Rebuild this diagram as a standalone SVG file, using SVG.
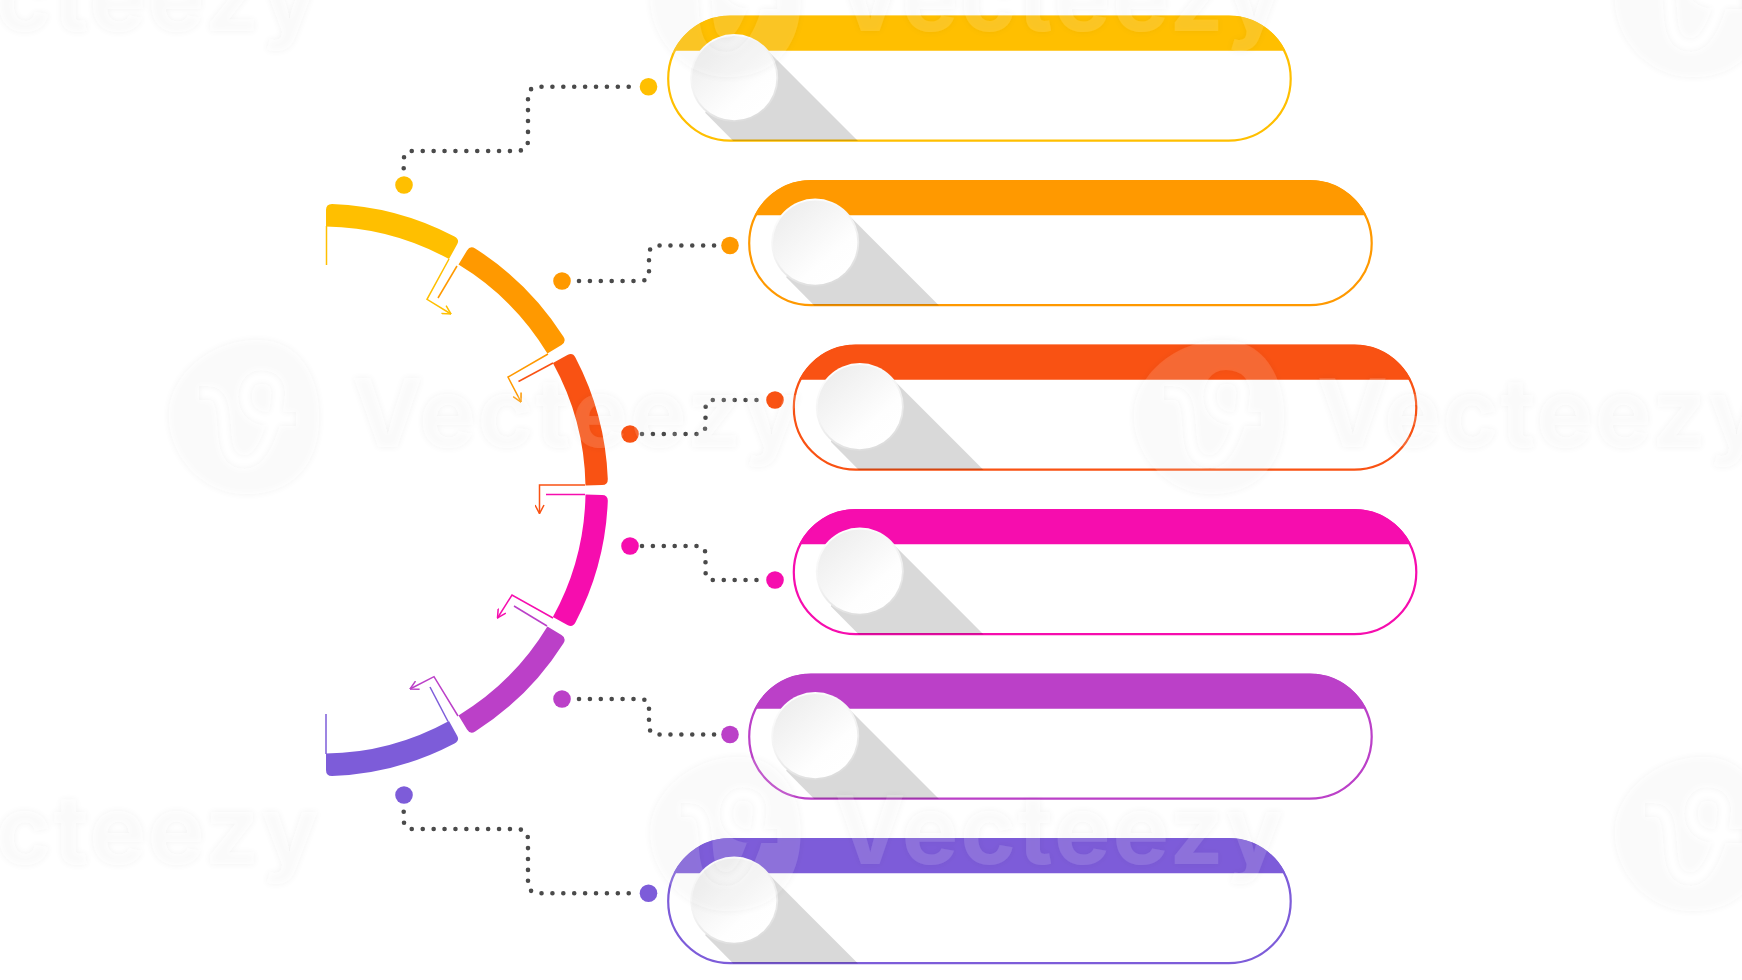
<svg xmlns="http://www.w3.org/2000/svg" width="1742" height="980" viewBox="0 0 1742 980">
<style>
.c1{color:#FFBF00}.c2{color:#FF9900}.c3{color:#F95213}.c4{color:#F60DAE}.c5{color:#BB40C8}.c6{color:#7D5CD9}
.seg{fill:currentColor}
.thin{fill:none;stroke:currentColor;stroke-width:1.5}
.dot{fill:currentColor}
.head{fill:none;stroke-width:1.5}
.dots{fill:none;stroke:#4a4a4a;stroke-width:4.6;stroke-linecap:round;stroke-dasharray:0 10.9}
.wmt{font-family:"Inter","Liberation Sans",sans-serif;font-weight:700;font-size:95px;letter-spacing:2px;fill:#fff;fill-opacity:.12}
</style>
<defs>
<linearGradient id="disc" x1="0.1" y1="0.1" x2="0.8" y2="0.9">
<stop offset="0" stop-color="#ededed"/><stop offset=".75" stop-color="#fefefe"/><stop offset="1" stop-color="#fff"/>
</linearGradient>
<linearGradient id="rim" x1="0.2" y1="0" x2="0.6" y2="1">
<stop offset="0" stop-color="#fff"/><stop offset=".55" stop-color="#f2f2f2"/><stop offset="1" stop-color="#dcdcdc"/>
</linearGradient>
<g id="pill">
<path d="M6.4 35A62.65 62.65 0 0 1 62.65 0H561.85A62.65 62.65 0 0 1 618.1 35Z" fill="currentColor"/>
<rect x="1" y="1" width="622.5" height="124" rx="62" fill="none" stroke="currentColor" stroke-width="2.2"/>
<path d="M101.6 36L190.8 125.4H66L38 97L67 40Z" fill="#000" fill-opacity=".15"/>
<circle cx="67" cy="62.4" r="44" fill="url(#rim)"/>
<circle cx="67" cy="62.4" r="42.2" fill="url(#disc)"/>
</g>
<marker id="a1" viewBox="0 0 10 10" refX="9.5" refY="5" markerWidth="10" markerHeight="10" markerUnits="userSpaceOnUse" orient="auto"><path class="head" stroke="#FFBF00" d="M1 0.5L9.5 5L1 9.5"/></marker>
<marker id="a2" viewBox="0 0 10 10" refX="9.5" refY="5" markerWidth="10" markerHeight="10" markerUnits="userSpaceOnUse" orient="auto"><path class="head" stroke="#FF9900" d="M1 0.5L9.5 5L1 9.5"/></marker>
<marker id="a3" viewBox="0 0 10 10" refX="9.5" refY="5" markerWidth="10" markerHeight="10" markerUnits="userSpaceOnUse" orient="auto"><path class="head" stroke="#F95213" d="M1 0.5L9.5 5L1 9.5"/></marker>
<marker id="a4" viewBox="0 0 10 10" refX="9.5" refY="5" markerWidth="10" markerHeight="10" markerUnits="userSpaceOnUse" orient="auto"><path class="head" stroke="#F60DAE" d="M1 0.5L9.5 5L1 9.5"/></marker>
<marker id="a5" viewBox="0 0 10 10" refX="9.5" refY="5" markerWidth="10" markerHeight="10" markerUnits="userSpaceOnUse" orient="auto"><path class="head" stroke="#BB40C8" d="M1 0.5L9.5 5L1 9.5"/></marker>
<filter id="halo" x="-10%" y="-30%" width="120%" height="160%">
<feGaussianBlur in="SourceAlpha" stdDeviation="3" result="b"/>
<feFlood flood-color="#000" flood-opacity=".4"/>
<feComposite in2="b" operator="in" result="s"/>
<feComposite in="s" in2="SourceAlpha" operator="out" result="o"/>
<feMerge><feMergeNode in="o"/><feMergeNode in="SourceGraphic"/></feMerge>
</filter>
<mask id="hole" maskUnits="userSpaceOnUse" x="-90" y="-90" width="180" height="180">
<rect x="-90" y="-90" width="180" height="180" fill="#fff"/>
<path d="M-45 -24H-36C-22 -24 -21 -8 -20 8C-19 30 -16 45 1 45C18 45 32 10 34 -22C35 -34 28 -40 17 -40C6 -40 1 -30 1 -20C1 -6 12 2 24 2H52" fill="none" stroke="#000" stroke-width="14"/>
</mask>
<g id="mark" filter="url(#halo)"><path mask="url(#hole)" d="M14 -77C55 -77 75 -40 75 0C75 45 50 77 2 77C-40 77 -75 40 -75 -2C-75 -40 -35 -77 14 -77Z" fill="#fff" fill-opacity=".12"/></g>
</defs>
<rect width="1742" height="980" fill="#fff"/>

<g id="arc">
<g id="arc-1" class="c1"><path class="seg" d="M326 226.5V210Q326 204 332 204A286 286 0 0 1 454.5 236.5Q459.8 239.4 457.3 244L449 259.1A263.5 263.5 0 0 0 326 226.5Z"/></g>
<g id="arc-2" class="c2"><path class="seg" d="M458.5 264.6L467 250.5Q470.1 245.4 475.2 248.5A286 286 0 0 1 563.5 336.8Q566.6 341.9 561.5 345L547.4 353.5A263.5 263.5 0 0 0 458.5 264.6Z"/></g>
<g id="arc-3" class="c3"><path class="seg" d="M552.9 363L567.4 355.1Q572.6 352.2 575.4 357.5A286 286 0 0 1 607.8 479Q608 485 602 485L585.5 485.4A263.5 263.5 0 0 0 552.9 363Z"/></g>
<g id="arc-4" class="c4"><path class="seg" d="M552.9 617L567.4 624.9Q572.6 627.8 575.4 622.5A286 286 0 0 0 607.8 501Q608 495 602 495L585.5 494.6A263.5 263.5 0 0 1 552.9 617Z"/></g>
<g id="arc-5" class="c5"><path class="seg" d="M458.5 715.4L467 729.5Q470.1 734.6 475.2 731.5A286 286 0 0 0 563.5 643.2Q566.6 638.1 561.5 635L547.4 626.5A263.5 263.5 0 0 1 458.5 715.4Z"/></g>
<g id="arc-6" class="c6"><path class="seg" d="M326 753.5V770Q326 776 332 776A286 286 0 0 0 454.5 743.5Q459.8 740.6 457.3 736L449 720.9A263.5 263.5 0 0 1 326 753.5Z"/></g>
</g>

<g id="node-1" class="c1"><use href="#pill" x="667.2" y="15.7"/></g>
<g id="node-2" class="c2"><use href="#pill" x="748.2" y="180.2"/></g>
<g id="node-3" class="c3"><use href="#pill" x="792.8" y="344.7"/></g>
<g id="node-4" class="c4"><use href="#pill" x="792.8" y="509.2"/></g>
<g id="node-5" class="c5"><use href="#pill" x="748.2" y="673.7"/></g>
<g id="node-6" class="c6"><use href="#pill" x="667.2" y="838.2"/></g>

<g id="connectors">
<path class="dots" d="M403.7 168.3V160Q404 151 413 151H516Q528 151 528 140V97Q528 87 539 86.7H632"/>
<path class="dots" d="M579 281H640Q649 281 649 272V255Q649 245.5 658 245.5H718"/>
<path class="dots" d="M642 434H697Q705.5 434 705.5 425V409Q705.5 400 714 400H762"/>
<path class="dots" d="M642 546H697Q705.5 546 705.5 555V571Q705.5 580 714 580H762"/>
<path class="dots" d="M579 699H640Q649 699 649 708V725Q649 734.5 658 734.5H718"/>
<path class="dots" d="M403.7 811.7V820Q404 829 413 829H516Q528 829 528 840V883Q528 893 539 893.3H632"/>
<g class="c1"><circle class="dot" cx="404" cy="185" r="8.8"/><circle class="dot" cx="648.5" cy="86.7" r="8.8"/>
<path class="thin" d="M326.5 226V265"/><path class="thin" marker-end="url(#a1)" d="M449 259L427 299.3L451 314"/></g>
<g class="c2"><circle class="dot" cx="562" cy="281" r="8.8"/><circle class="dot" cx="730" cy="245.5" r="8.8"/>
<path class="thin" d="M457 266L438 298"/><path class="thin" marker-end="url(#a2)" d="M548 354L508 377L521 402"/></g>
<g class="c3"><circle class="dot" cx="630" cy="434" r="8.8"/><circle class="dot" cx="775" cy="400" r="8.8"/>
<path class="thin" d="M553 363L518.5 381.5"/><path class="thin" marker-end="url(#a3)" d="M585 485H539.5V513.5"/></g>
<g class="c4"><circle class="dot" cx="630" cy="546" r="8.8"/><circle class="dot" cx="775" cy="580" r="8.8"/>
<path class="thin" d="M585 494.5H546"/><path class="thin" marker-end="url(#a4)" d="M553 618L512 595L497.5 618"/></g>
<g class="c5"><circle class="dot" cx="562" cy="699" r="8.8"/><circle class="dot" cx="730" cy="734.5" r="8.8"/>
<path class="thin" d="M547 626L514 606"/><path class="thin" marker-end="url(#a5)" d="M458 716L434 676.7L410 689"/></g>
<g class="c6"><circle class="dot" cx="404" cy="795" r="8.8"/><circle class="dot" cx="648.5" cy="893.3" r="8.8"/>
<path class="thin" d="M326 754V714"/><path class="thin" d="M448 721.5L430 687"/></g>
</g>

<g id="watermark">
<use href="#mark" x="-239" y="0"/><use href="#mark" x="725.5" y="0"/><use href="#mark" x="1690" y="0"/>
<use href="#mark" x="244" y="417"/><use href="#mark" x="1209" y="417"/>
<use href="#mark" x="-239" y="834"/><use href="#mark" x="725.5" y="834"/><use href="#mark" x="1690" y="834"/>
<g filter="url(#halo)">
<text class="wmt" x="-130" y="31">Vecteezy</text><text class="wmt" x="834.5" y="31">Vecteezy</text>
<text class="wmt" x="352" y="447">Vecteezy</text><text class="wmt" x="1317" y="447">Vecteezy</text>
<text class="wmt" x="-130" y="864">Vecteezy</text><text class="wmt" x="834.5" y="864">Vecteezy</text>
</g>
</g>
</svg>
